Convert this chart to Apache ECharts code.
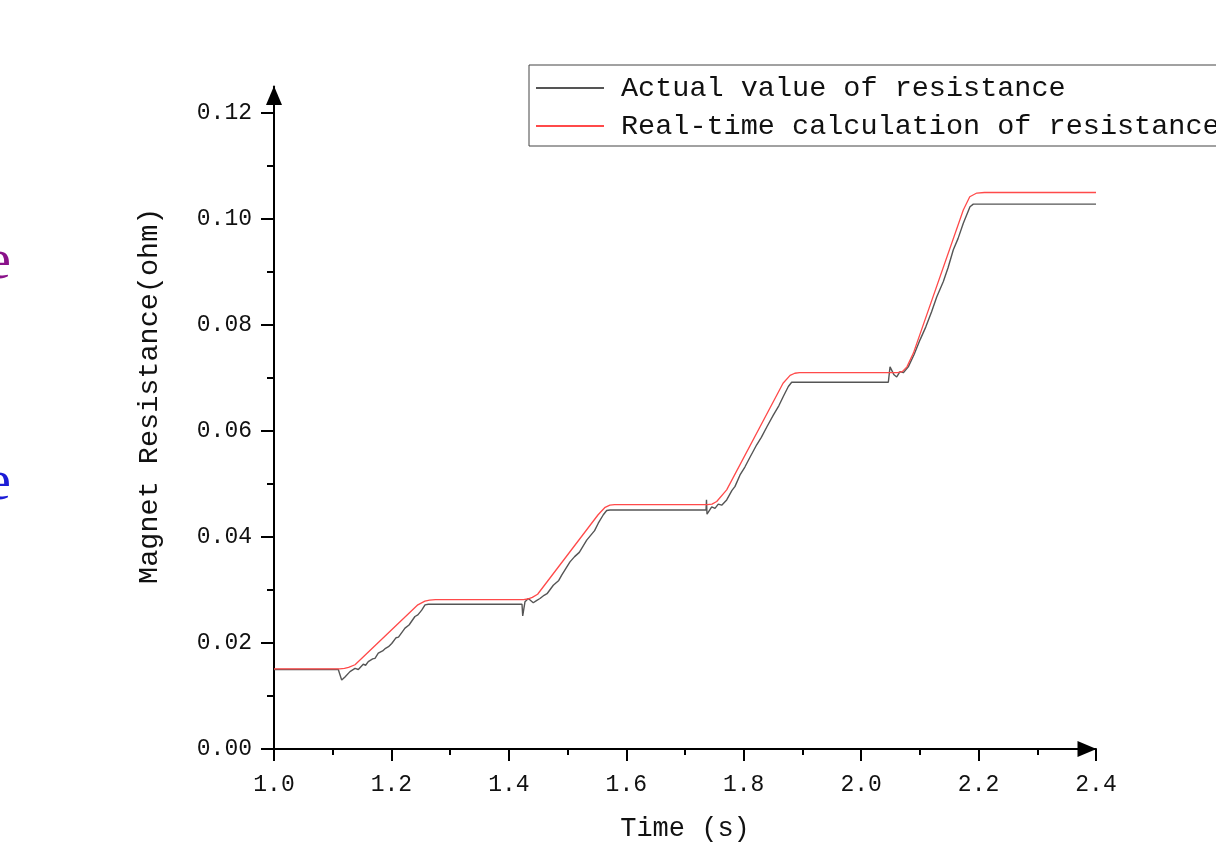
<!DOCTYPE html>
<html>
<head>
<meta charset="utf-8">
<title>Magnet Resistance</title>
<script src="https://cdn.jsdelivr.net/npm/echarts@6.0.0/dist/echarts.min.js"></script>
<style>
	html, body { margin: 0; padding: 0; background: #fff; }
	#chart { width: 1216px; height: 847px; }
</style>
</head>
<body>
<div id="chart"></div>
<script>
// time (s) and resistance (ohm)
var actualT = [1.0, 1.1095, 1.1153, 1.1209, 1.1294, 1.138, 1.1436, 1.152, 1.156, 1.1606, 1.168, 1.172, 1.1776, 1.185, 1.19, 1.195, 1.2005, 1.208, 1.212, 1.2231, 1.23, 1.235, 1.2401, 1.245, 1.2516, 1.2572, 1.2628,
	1.4224, 1.4236, 1.4275, 1.4331, 1.4416, 1.447, 1.453, 1.46, 1.465, 1.4757, 1.485, 1.49, 1.5041, 1.512, 1.52, 1.5326, 1.54, 1.546, 1.5523, 1.5609, 1.5666, 1.5723,
	1.7358, 1.7366, 1.7375, 1.7455, 1.7511, 1.7567, 1.7625, 1.771, 1.78, 1.785, 1.7937, 1.802, 1.81, 1.8221, 1.83, 1.84, 1.8504, 1.86, 1.8674, 1.876, 1.8817,
	2.0463, 2.0492, 2.056, 2.0606, 2.0662, 2.0718, 2.0803, 2.09, 2.1003, 2.11, 2.12, 2.1287, 2.14, 2.148, 2.157, 2.165, 2.174, 2.1854, 2.191, 2.4];
var actualV = [0.0150, 0.0150, 0.0130, 0.0136, 0.0146, 0.0152, 0.0150, 0.0160, 0.0158, 0.0165, 0.0170, 0.0171, 0.0181, 0.0185, 0.0190, 0.0193, 0.0199, 0.0210, 0.0211, 0.0228, 0.0234, 0.0242, 0.0250, 0.0253, 0.0262, 0.0272, 0.0273,
	0.0273, 0.0251, 0.0278, 0.0284, 0.0276, 0.0280, 0.0284, 0.0290, 0.0293, 0.0309, 0.0318, 0.0328, 0.0353, 0.0363, 0.0371, 0.0394, 0.0404, 0.0412, 0.0426, 0.0442, 0.0450, 0.0451,
	0.0451, 0.0470, 0.0443, 0.0457, 0.0454, 0.0462, 0.0460, 0.0470, 0.0488, 0.0495, 0.0517, 0.0532, 0.0549, 0.0574, 0.0588, 0.0609, 0.0630, 0.0648, 0.0665, 0.0684, 0.0692,
	0.0692, 0.0721, 0.0706, 0.0702, 0.0712, 0.0710, 0.0721, 0.0744, 0.0772, 0.0796, 0.0825, 0.0853, 0.0882, 0.0908, 0.0942, 0.0963, 0.0992, 0.1023, 0.1028, 0.1028];

var calcT = [1.0, 1.112, 1.12, 1.127, 1.138, 1.245, 1.257, 1.265, 1.275, 1.425, 1.432, 1.44, 1.449, 1.552, 1.564, 1.572, 1.58,
	1.738, 1.746, 1.754, 1.771, 1.867, 1.879, 1.887, 1.895, 2.062, 2.07, 2.078, 2.089, 2.174, 2.185, 2.197, 2.21, 2.4];
var calcV = [0.0151, 0.0151, 0.0152, 0.0154, 0.0159, 0.0272, 0.0279, 0.0281, 0.0282, 0.0282, 0.0283, 0.0286, 0.0292, 0.0442, 0.0456, 0.0460, 0.0461,
	0.0461, 0.0462, 0.0467, 0.0489, 0.0690, 0.0705, 0.0709, 0.0710, 0.0710, 0.0712, 0.0721, 0.0747, 0.1017, 0.1042, 0.1049, 0.1050, 0.1050];

var yLabels = [0, 0.02, 0.04, 0.06, 0.08, 0.10, 0.12];
var seriesNames = ['Actual value of resistance', 'Real-time calculation of resistance'];

function zip(t, v) {
	var out = [];
	for (var i = 0; i < t.length; i++) {
		out.push([t[i], v[i]]);
	}
	return out;
}

var mono = '"Liberation Mono", "DejaVu Sans Mono", monospace';
var chart = echarts.init(document.getElementById('chart'));

var axisLine = {
	show: true,
	symbol: ['none', 'triangle'],
	symbolSize: [16, 19],
	symbolOffset: [0, -9],
	lineStyle: { color: '#000', width: 2 }
};

var option = {
	backgroundColor: '#fff',
	animation: false,
	grid: { left: 274, right: 120, top: 86.5, bottom: 98 },
	legend: {
		orient: 'vertical',
		left: 529,
		top: 65,
		padding: [8, 0, 5, 6],
		itemGap: 8,
		itemWidth: 68,
		itemHeight: 14,
		borderColor: '#444',
		borderWidth: 1,
		data: seriesNames,
		itemStyle: { opacity: 0 },
		textStyle: {
			fontFamily: mono,
			fontSize: 28.5,
			lineHeight: 30,
			color: '#111',
			padding: [0, 0, 0, 12]
		}
	},
	graphic: [
		{ type: 'text', x: -14, y: 263, style: { text: 'e', font: '56px "Liberation Serif"', fill: '#8a128a', verticalAlign: 'middle' } },
		{ type: 'text', x: -14, y: 484, style: { text: 'e', font: '56px "Liberation Serif"', fill: '#1c1cd6', verticalAlign: 'middle' } }
	],
	xAxis: {
		type: 'value',
		min: 1.0,
		max: 2.4,
		interval: 0.2,
		name: 'Time (s)',
		nameLocation: 'middle',
		nameGap: 66,
		nameTextStyle: { fontFamily: mono, fontSize: 27, color: '#111' },
		axisLine: axisLine,
		axisTick: { show: true, length: 12, lineStyle: { color: '#000', width: 2 } },
		minorTick: { show: true, splitNumber: 2, length: 6, lineStyle: { color: '#000', width: 2 } },
		axisLabel: {
			margin: 24,
			fontFamily: mono,
			fontSize: 23,
			color: '#111',
			formatter: function (v) { return v.toFixed(1); }
		},
		splitLine: { show: false }
	},
	yAxis: {
		type: 'value',
		min: 0,
		max: 0.125,
		interval: 0.02,
		name: 'Magnet Resistance(ohm)',
		nameLocation: 'middle',
		nameGap: 110,
		nameTextStyle: { fontFamily: mono, fontSize: 28.5, color: '#111', padding: [0, 0, 0, 44] },
		axisLine: axisLine,
		axisTick: { show: true, length: 13, customValues: yLabels, lineStyle: { color: '#000', width: 2 } },
		minorTick: { show: true, splitNumber: 2, length: 7, lineStyle: { color: '#000', width: 2 } },
		axisLabel: {
			margin: 22,
			fontFamily: mono,
			fontSize: 23,
			color: '#111',
			customValues: yLabels,
			formatter: function (v) { return v.toFixed(2); }
		},
		splitLine: { show: false }
	},
	series: [
		{
			name: seriesNames[0],
			type: 'line',
			symbol: 'none',
			data: zip(actualT, actualV),
			itemStyle: { color: '#555' },
			lineStyle: { color: '#555', width: 1.4 }
		},
		{
			name: seriesNames[1],
			type: 'line',
			symbol: 'none',
			data: zip(calcT, calcV),
			itemStyle: { color: '#ff4a4a' },
			lineStyle: { color: '#ff4a4a', width: 1.3 }
		}
	]
};

chart.setOption(option);
</script>
</body>
</html>
